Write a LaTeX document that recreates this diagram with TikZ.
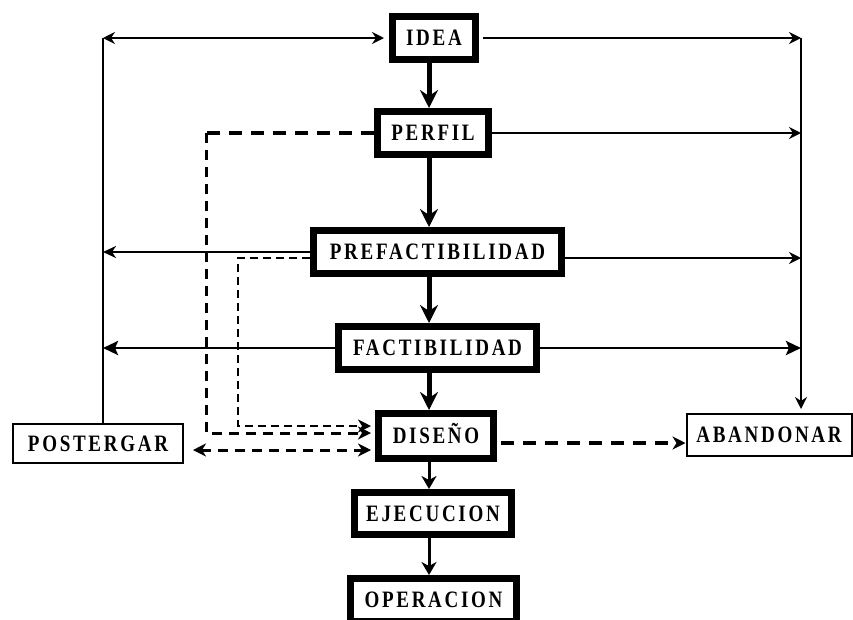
\documentclass[tikz,border=0pt]{standalone}
\usepackage{fontspec}
\setmainfont{Liberation Serif}
\newfontfamily\bx{Liberation Serif}[LetterSpace=11.5,FakeStretch=0.81]
\usetikzlibrary{arrows.meta,calc}
\tikzset{
  thintip/.tip={Stealth[length=12pt,width=12pt,inset=4pt]},
  dashtip/.tip={Stealth[length=13pt,width=13pt,inset=4pt]}
}
\begin{document}
\begin{tikzpicture}[x=1pt,y=-1pt,
  lbl/.style={inner sep=0pt, text height=15.5pt, text depth=0pt,
    font=\bx\bfseries\fontsize{23.5}{23.5}\selectfont},
  mainbox/.style={draw, lbl, line width=7pt},
  thinbox/.style={draw, lbl, line width=2pt},
  flowthick/.style={line width=5pt, -{Stealth[length=18pt,width=18pt,inset=6pt]}},
  flowmed/.style={line width=3pt, -{Stealth[length=13pt,width=15pt,inset=4pt]}},
  thinarr/.style={line width=2pt, -thintip},
  medarr/.style={line width=2.8pt, -{Stealth[length=15pt,width=14pt,inset=3pt]}},
  dashthick/.style={line width=4.5pt, dash pattern=on 13pt off 9pt},
  dashmid/.style={line width=3pt, dash pattern=on 10pt off 7pt},
  dashthin/.style={line width=2.2pt, dash pattern=on 8pt off 5pt},
  dtip/.style={-dashtip}
]
\clip (0,0) rectangle (853,619);
\useasboundingbox (0,0) rectangle (853,619);

% main column
\node[mainbox, minimum width=83pt, minimum height=43pt] (idea) at (434,38) {IDEA};
\node[mainbox, minimum width=111pt, minimum height=43pt] (perfil) at (433,133) {PERFIL};
\node[mainbox, minimum width=248pt, minimum height=43pt] (pref) at (437.5,252) {PREFACTIBILIDAD};
\node[mainbox, minimum width=198pt, minimum height=43pt] (fact) at (437.5,348) {FACTIBILIDAD};
\node[mainbox, minimum width=115pt, minimum height=45pt] (dis) at (436,436) {DISEÑO};
\node[mainbox, minimum width=157pt, minimum height=42pt] (ejec) at (433,513.5) {EJECUCION};
\node[mainbox, minimum width=166pt, minimum height=43pt] (oper) at (433.5,600) {OPERACION};
% side boxes
\node[thinbox, minimum width=170pt, minimum height=39pt] (post) at (98,443.5) {POSTERGAR};
\node[thinbox, minimum width=165pt, minimum height=42pt] (aban) at (769,435) {ABANDONAR};

\coordinate (col) at (429,0);
\coordinate (lt) at (103,38);
\coordinate (rt) at (801,38);

% main flow
\draw[flowthick] (idea.south -| col) -- (perfil.north -| col);
\draw[flowthick] (perfil.south -| col) -- (pref.north -| col);
\draw[flowthick] (pref.south -| col) -- (fact.north -| col);
\draw[flowthick] (fact.south -| col) -- (dis.north -| col);
\draw[flowmed] (dis.south -| col) -- (ejec.north -| col);
\draw[flowmed] (ejec.south -| col) -- (oper.north -| col);

% left (postergar) line
\draw[line width=2pt] (lt) -- (lt |- post.north);
\draw[line width=2pt, thintip-thintip, shorten >=5pt] (lt) -- (idea.west);
\draw[line width=2.2pt, -{Stealth[length=13pt,width=12pt,inset=4pt]}] (pref.west) -- (pref.west -| lt);
\draw[medarr] (fact.west) -- (fact.west -| lt);

% right (abandonar) line
\draw[thinarr, shorten >=4pt] (rt) -- (rt |- aban.north);
\draw[thinarr, shorten <=4pt] (idea.east) -- (rt);
\draw[thinarr] (perfil.east) -- (perfil.east -| rt);
\draw[thinarr] ([yshift=-6pt]pref.east) -- ([yshift=-6pt]pref.east -| rt);
\draw[medarr] (fact.east) -- (fact.east -| rt);

% dashed returns to DISEÑO
\coordinate (oc) at (206,433);
\coordinate (ic) at (238,426);
\draw[dashthick] (perfil.west) -- (perfil.west -| oc);
\draw[dashmid, dtip, shorten >=4pt] (perfil.west -| oc) -- (oc) -- (oc -| dis.west);
\draw[dashthin, dtip, shorten >=4pt] ([yshift=-6pt]pref.west) -| (ic) -- (ic -| dis.west);
\draw[dashmid, dashtip-dashtip, shorten <=9pt, shorten >=4pt]
  ([yshift=-6.5pt]post.east) -- ([yshift=-6.5pt]post.east -| dis.west);
\draw[dashthick, dtip, shorten <=4pt] ([yshift=-7pt]dis.east) -- ([yshift=-7pt]dis.east -| aban.west);
\end{tikzpicture}
\end{document}
